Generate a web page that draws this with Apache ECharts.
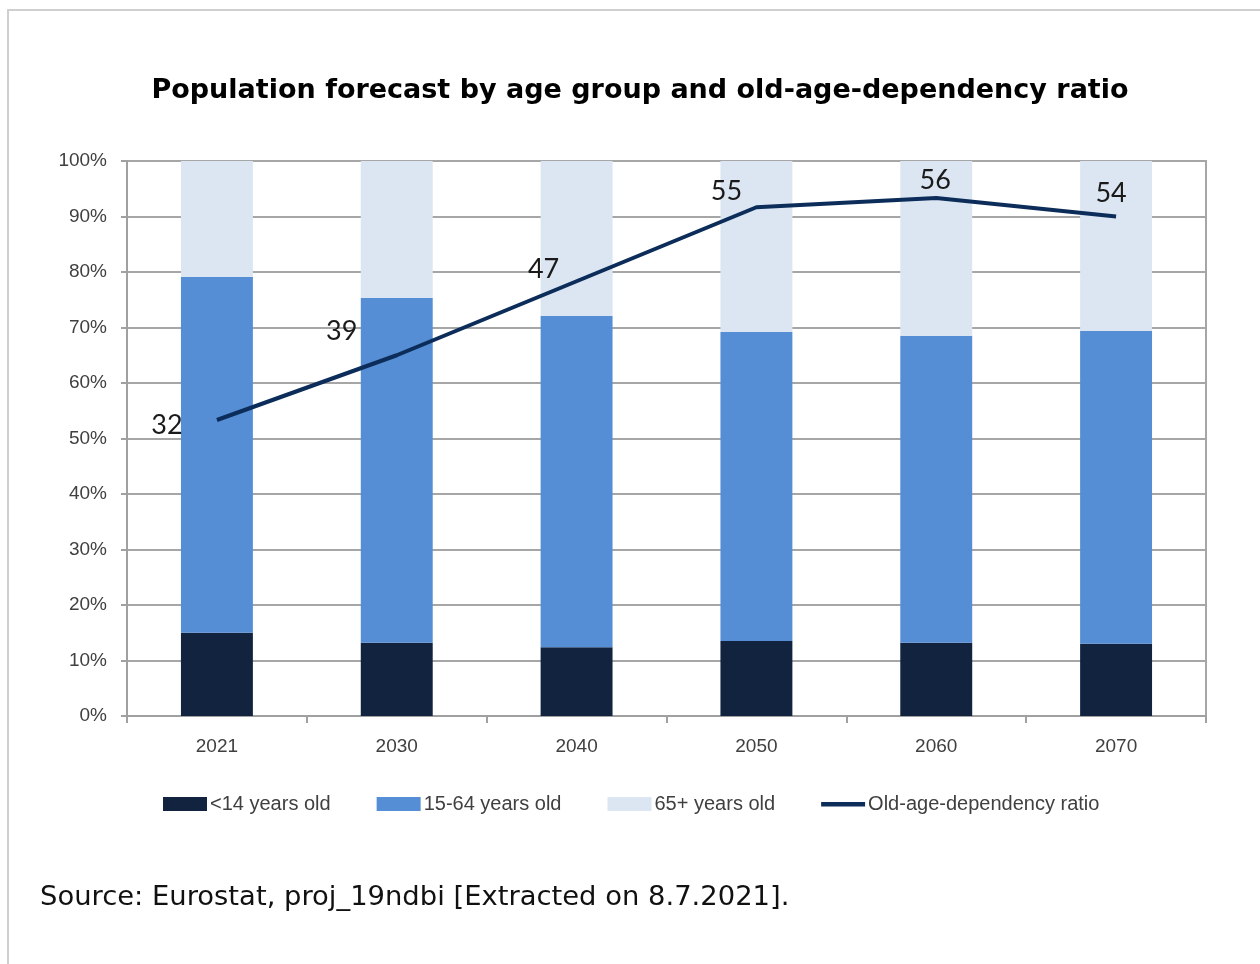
<!DOCTYPE html>
<html>
<head>
<meta charset="utf-8">
<script src="https://cdn.jsdelivr.net/npm/echarts@6/dist/echarts.min.js"></script>
<style>
  html, body { margin: 0; padding: 0; background: #fff; }
  #frame {
    position: absolute; left: 7px; top: 9px; width: 1253px; height: 955px;
    border-top: 2px solid #cfcfcf; border-left: 2px solid #cfcfcf;
    box-sizing: border-box;
  }
  #chart { position: absolute; left: 0; top: 0; width: 1260px; height: 964px; }
</style>
</head>
<body>
<div id="frame"></div>
<div id="chart"></div>
<script>
// Projection years
const years = ['2021', '2030', '2040', '2050', '2060', '2070'];
// Share of population by age group (%)
const under14 = [15.0, 13.2, 12.4, 13.5, 13.2, 13.0];
const age15to64 = [64.1, 62.1, 59.7, 55.7, 55.3, 56.4];
const age65plus = [20.9, 24.7, 27.9, 30.8, 31.5, 30.6];
// Old-age-dependency ratio
const dependencyRatio = [32, 39, 47, 55, 56, 54];
// Y-axis tick labels
const yTicks = ['0%', '10%', '20%', '30%', '40%', '50%', '60%', '70%', '80%', '90%', '100%'];

// Where each ratio label sits relative to its point
const ratioLabelOffsets = [[-50, 24], [-55, -5], [-33, 7], [-30, 3], [-1, 1], [-5, -5]];

const narrow = '"Liberation Sans Narrow", "Liberation Sans", sans-serif';
// Thick dash for the ratio's legend key (tiny corner dots keep the 44x14 box)
const lineKey = 'path://M0,0H0.01V0.01H0Z M0,5H44V9.5H0Z M43.99,14H44V14.01H43.99Z';

const chart = echarts.init(document.getElementById('chart'), null, { renderer: 'canvas' });

chart.setOption({
  animation: false,
  title: {
    text: 'Population forecast by age group and old-age-dependency ratio',
    left: 635, top: 72, textAlign: 'center',
    textStyle: { fontFamily: '"DejaVu Sans", sans-serif', fontWeight: 'bold', fontSize: 27, color: '#000' }
  },
  graphic: [{
    type: 'text', left: 40, top: 884,
    style: { text: 'Source: Eurostat, proj_19ndbi [Extracted on 8.7.2021].',
             font: '27.4px "DejaVu Sans", sans-serif', fill: '#111' }
  }],
  legend: {
    left: 163, top: 794, padding: 0,
    itemWidth: 44, itemHeight: 14, itemGap: 46,
    textStyle: { fontFamily: narrow, fontSize: 20, color: '#404040', padding: [0, 0, 0, -2] },
    data: [
      { name: '<14 years old', icon: 'rect' },
      { name: '15-64 years old', icon: 'rect' },
      { name: '65+ years old', icon: 'rect' },
      { name: 'Old-age-dependency ratio', icon: lineKey }
    ]
  },
  grid: {
    left: 127, right: 54, top: 161, bottom: 248,
    show: true, borderColor: '#a6a6a6', borderWidth: 2
  },
  xAxis: {
    type: 'category', data: years,
    axisLine: { lineStyle: { color: '#a0a0a0', width: 2 } },
    axisTick: { show: true, length: 7, lineStyle: { color: '#a0a0a0', width: 2 } },
    axisLabel: { fontFamily: narrow, fontSize: 19, color: '#404040', margin: 21 }
  },
  yAxis: [{
    type: 'value', min: 0, max: 100, interval: 10,
    axisLine: { show: true, lineStyle: { color: '#a0a0a0', width: 2 } },
    axisTick: { show: true, length: 6, lineStyle: { color: '#a0a0a0', width: 2 } },
    splitLine: { lineStyle: { color: '#a6a6a6', width: 2 } },
    axisLabel: {
      fontFamily: narrow, fontSize: 19, color: '#404040', margin: 20,
      formatter: (v) => yTicks[Math.round(v / 10)]
    }
  }, {
    type: 'value', min: 0, max: 60, show: false
  }],
  series: [
    { name: '<14 years old', type: 'bar', stack: 'pop', barWidth: '40%',
      itemStyle: { color: '#12233f' }, data: under14 },
    { name: '15-64 years old', type: 'bar', stack: 'pop',
      itemStyle: { color: '#558ed5' }, data: age15to64 },
    { name: '65+ years old', type: 'bar', stack: 'pop',
      itemStyle: { color: '#dce6f2' }, data: age65plus },
    { name: 'Old-age-dependency ratio', type: 'line', yAxisIndex: 1,
      showSymbol: true, symbol: 'circle', symbolSize: 0.01,
      lineStyle: { color: '#0c2d5a', width: 4 },
      itemStyle: { color: '#0c2d5a' },
      label: { show: true, position: 'top', fontFamily: 'Lato, "Open Sans", sans-serif', fontSize: 27, color: '#1a1a1a' },
      data: dependencyRatio.map((v, i) => ({
        value: v,
        label: { offset: ratioLabelOffsets[i] }
      }))
    }
  ]
});
</script>
</body>
</html>
